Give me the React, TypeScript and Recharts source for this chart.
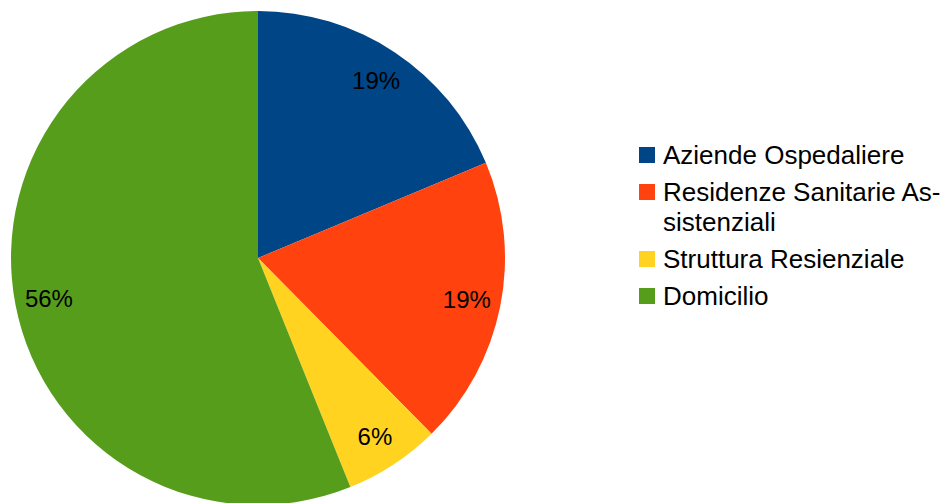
import { PieChart, Pie, Cell, Legend } from 'recharts'

const categories = ['Aziende Ospedaliere', 'Residenze Sanitarie Assistenziali', 'Struttura Resienziale', 'Domicilio']
const legendLines = [['Aziende Ospedaliere'], ['Residenze Sanitarie As-', 'sistenziali'], ['Struttura Resienziale'], ['Domicilio']]
const values = [18.7, 18.9, 6.3, 56.1]
const colors = ['#004586', '#ff420e', '#ffd320', '#579d1c']

const data = categories.map((name, i) => ({ name, value: values[i] }))
const total = values.reduce((a, b) => a + b, 0)

const RADIAN = Math.PI / 180

const renderLabel = (props: any) => {
  const { cx, cy, midAngle, value } = props
  const r = 213
  const x = cx + r * Math.cos(-midAngle * RADIAN)
  const y = cy + r * Math.sin(-midAngle * RADIAN)
  return (
    <text
      x={x}
      y={y}
      fill="#000"
      textAnchor="middle"
      dominantBaseline="central"
      style={{ fontSize: '24px', fontFamily: '"Liberation Sans", Arial, sans-serif' }}
    >
      {Math.round((value / total) * 100)}%
    </text>
  )
}

const renderLegend = () => (
  <div style={{ fontFamily: '"Liberation Sans", Arial, sans-serif', fontSize: '26px', color: '#000' }}>
    {legendLines.map((lines, i) => (
      <div key={i} style={{ display: 'flex', alignItems: 'flex-start', marginBottom: '7px' }}>
        <div style={{ width: 16, height: 16, background: colors[i], marginTop: 7, marginRight: 8, flexShrink: 0 }} />
        <div style={{ lineHeight: '30px' }}>
          {lines.map((l, j) => (
            <div key={j}>{l}</div>
          ))}
        </div>
      </div>
    ))}
  </div>
)

export default function App() {
  return (
    <div style={{ position: 'fixed', left: 0, top: 0, width: 947, height: 503, background: '#fff' }}>
      <PieChart width={947} height={503} margin={{ top: 0, right: 0, bottom: 0, left: 0 }}>
        <Pie
          data={data}
          dataKey="value"
          nameKey="name"
          cx={258}
          cy={258}
          outerRadius={247}
          startAngle={90}
          endAngle={-270}
          stroke="none"
          label={renderLabel}
          labelLine={false}
          isAnimationActive={false}
        >
          {data.map((d, i) => (
            <Cell key={d.name} fill={colors[i]} />
          ))}
        </Pie>
        <Legend
          content={renderLegend}
          wrapperStyle={{ left: 639, top: 140, width: 308 }}
        />
      </PieChart>
    </div>
  )
}
